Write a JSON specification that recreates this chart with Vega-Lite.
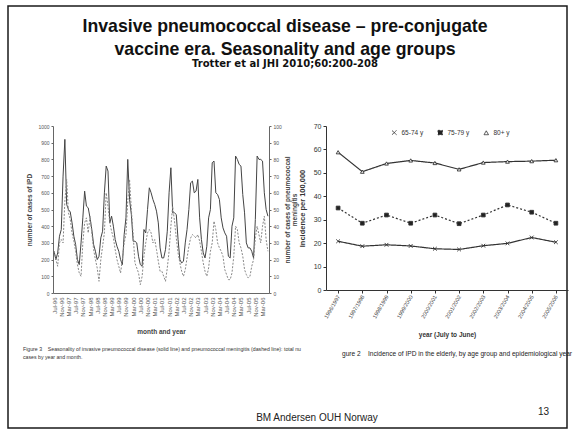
{
  "$schema": "https://vega.github.io/schema/vega-lite/v6.json",
  "padding": {"left": 7, "top": 5, "right": 0, "bottom": 0},
  "background": "white",
  "config": {
    "font": "Liberation Sans",
    "view": {"stroke": null},
    "axis": {"grid": false, "labelFont": "Liberation Sans", "titleFont": "Liberation Sans"},
    "legend": {"labelFont": "Liberation Sans"}
  },
  "datasets": {
    "monthly": [
      {"month": "Jul-96", "ipd": 250, "men": 25}, {"month": "Aug-96", "ipd": 200, "men": 20}, {"month": "Sep-96", "ipd": 240, "men": 16}, {"month": "Oct-96", "ipd": 340, "men": 30}, {"month": "Nov-96", "ipd": 380, "men": 32}, {"month": "Dec-96", "ipd": 700, "men": 30}, {"month": "Jan-97", "ipd": 920, "men": 55}, {"month": "Feb-97", "ipd": 530, "men": 68}, {"month": "Mar-97", "ipd": 500, "men": 48}, {"month": "Apr-97", "ipd": 485, "men": 44}, {"month": "May-97", "ipd": 420, "men": 36}, {"month": "Jun-97", "ipd": 340, "men": 31},
      {"month": "Jul-97", "ipd": 290, "men": 25}, {"month": "Aug-97", "ipd": 200, "men": 17}, {"month": "Sep-97", "ipd": 170, "men": 12}, {"month": "Oct-97", "ipd": 300, "men": 10}, {"month": "Nov-97", "ipd": 450, "men": 30}, {"month": "Dec-97", "ipd": 610, "men": 42}, {"month": "Jan-98", "ipd": 520, "men": 45}, {"month": "Feb-98", "ipd": 510, "men": 36}, {"month": "Mar-98", "ipd": 450, "men": 46}, {"month": "Apr-98", "ipd": 380, "men": 36}, {"month": "May-98", "ipd": 290, "men": 26}, {"month": "Jun-98", "ipd": 250, "men": 20},
      {"month": "Jul-98", "ipd": 200, "men": 15}, {"month": "Aug-98", "ipd": 220, "men": 7}, {"month": "Sep-98", "ipd": 330, "men": 20}, {"month": "Oct-98", "ipd": 370, "men": 28}, {"month": "Nov-98", "ipd": 600, "men": 36}, {"month": "Dec-98", "ipd": 760, "men": 60}, {"month": "Jan-99", "ipd": 730, "men": 52}, {"month": "Feb-99", "ipd": 420, "men": 42}, {"month": "Mar-99", "ipd": 460, "men": 37}, {"month": "Apr-99", "ipd": 400, "men": 33}, {"month": "May-99", "ipd": 320, "men": 26}, {"month": "Jun-99", "ipd": 280, "men": 20},
      {"month": "Jul-99", "ipd": 250, "men": 16}, {"month": "Aug-99", "ipd": 200, "men": 12}, {"month": "Sep-99", "ipd": 170, "men": 20}, {"month": "Oct-99", "ipd": 350, "men": 30}, {"month": "Nov-99", "ipd": 450, "men": 35}, {"month": "Dec-99", "ipd": 800, "men": 55}, {"month": "Jan-00", "ipd": 560, "men": 68}, {"month": "Feb-00", "ipd": 470, "men": 50}, {"month": "Mar-00", "ipd": 310, "men": 35}, {"month": "Apr-00", "ipd": 310, "men": 18}, {"month": "May-00", "ipd": 300, "men": 15}, {"month": "Jun-00", "ipd": 220, "men": 12},
      {"month": "Jul-00", "ipd": 170, "men": 5}, {"month": "Aug-00", "ipd": 160, "men": 10}, {"month": "Sep-00", "ipd": 380, "men": 22}, {"month": "Oct-00", "ipd": 360, "men": 30}, {"month": "Nov-00", "ipd": 500, "men": 36}, {"month": "Dec-00", "ipd": 630, "men": 38}, {"month": "Jan-01", "ipd": 600, "men": 36}, {"month": "Feb-01", "ipd": 560, "men": 30}, {"month": "Mar-01", "ipd": 530, "men": 32}, {"month": "Apr-01", "ipd": 490, "men": 26}, {"month": "May-01", "ipd": 420, "men": 19}, {"month": "Jun-01", "ipd": 270, "men": 13},
      {"month": "Jul-01", "ipd": 210, "men": 13}, {"month": "Aug-01", "ipd": 210, "men": 10}, {"month": "Sep-01", "ipd": 260, "men": 7}, {"month": "Oct-01", "ipd": 370, "men": 15}, {"month": "Nov-01", "ipd": 600, "men": 25}, {"month": "Dec-01", "ipd": 750, "men": 40}, {"month": "Jan-02", "ipd": 480, "men": 52}, {"month": "Feb-02", "ipd": 480, "men": 43}, {"month": "Mar-02", "ipd": 470, "men": 33}, {"month": "Apr-02", "ipd": 320, "men": 24}, {"month": "May-02", "ipd": 200, "men": 18}, {"month": "Jun-02", "ipd": 180, "men": 13},
      {"month": "Jul-02", "ipd": 190, "men": 10}, {"month": "Aug-02", "ipd": 300, "men": 14}, {"month": "Sep-02", "ipd": 380, "men": 21}, {"month": "Oct-02", "ipd": 500, "men": 28}, {"month": "Nov-02", "ipd": 660, "men": 33}, {"month": "Dec-02", "ipd": 670, "men": 35}, {"month": "Jan-03", "ipd": 600, "men": 34}, {"month": "Feb-03", "ipd": 610, "men": 33}, {"month": "Mar-03", "ipd": 680, "men": 35}, {"month": "Apr-03", "ipd": 450, "men": 31}, {"month": "May-03", "ipd": 320, "men": 25}, {"month": "Jun-03", "ipd": 240, "men": 18},
      {"month": "Jul-03", "ipd": 210, "men": 13}, {"month": "Aug-03", "ipd": 280, "men": 10}, {"month": "Sep-03", "ipd": 450, "men": 15}, {"month": "Oct-03", "ipd": 500, "men": 25}, {"month": "Nov-03", "ipd": 780, "men": 30}, {"month": "Dec-03", "ipd": 790, "men": 43}, {"month": "Jan-04", "ipd": 600, "men": 38}, {"month": "Feb-04", "ipd": 590, "men": 30}, {"month": "Mar-04", "ipd": 560, "men": 27}, {"month": "Apr-04", "ipd": 450, "men": 25}, {"month": "May-04", "ipd": 390, "men": 22}, {"month": "Jun-04", "ipd": 360, "men": 14},
      {"month": "Jul-04", "ipd": 340, "men": 11}, {"month": "Aug-04", "ipd": 220, "men": 8}, {"month": "Sep-04", "ipd": 210, "men": 8}, {"month": "Oct-04", "ipd": 400, "men": 12}, {"month": "Nov-04", "ipd": 450, "men": 22}, {"month": "Dec-04", "ipd": 820, "men": 40}, {"month": "Jan-05", "ipd": 800, "men": 38}, {"month": "Feb-05", "ipd": 770, "men": 30}, {"month": "Mar-05", "ipd": 760, "men": 27}, {"month": "Apr-05", "ipd": 590, "men": 22}, {"month": "May-05", "ipd": 480, "men": 14}, {"month": "Jun-05", "ipd": 300, "men": 11},
      {"month": "Jul-05", "ipd": 270, "men": 9}, {"month": "Aug-05", "ipd": 270, "men": 10}, {"month": "Sep-05", "ipd": 250, "men": 16}, {"month": "Oct-05", "ipd": 210, "men": 20}, {"month": "Nov-05", "ipd": 440, "men": 33}, {"month": "Dec-05", "ipd": 820, "men": 40}, {"month": "Jan-06", "ipd": 800, "men": 35}, {"month": "Feb-06", "ipd": 800, "men": 30}, {"month": "Mar-06", "ipd": 790, "men": 40}, {"month": "Apr-06", "ipd": 600, "men": 46}, {"month": "May-06", "ipd": 500, "men": 32}, {"month": "Jun-06", "ipd": 460, "men": 25}
    ],
    "elderly": [
      {"season": "1996/1997", "group": "65-74 y", "incidence": 20.8}, {"season": "1997/1998", "group": "65-74 y", "incidence": 18.7}, {"season": "1998/1999", "group": "65-74 y", "incidence": 19.3}, {"season": "1999/2000", "group": "65-74 y", "incidence": 18.8}, {"season": "2000/2001", "group": "65-74 y", "incidence": 17.6}, {"season": "2001/2002", "group": "65-74 y", "incidence": 17.3}, {"season": "2002/2003", "group": "65-74 y", "incidence": 18.9}, {"season": "2003/2004", "group": "65-74 y", "incidence": 19.9}, {"season": "2004/2005", "group": "65-74 y", "incidence": 22.4}, {"season": "2005/2006", "group": "65-74 y", "incidence": 20.4},
      {"season": "1996/1997", "group": "75-79 y", "incidence": 35.0}, {"season": "1997/1998", "group": "75-79 y", "incidence": 28.5}, {"season": "1998/1999", "group": "75-79 y", "incidence": 32.0}, {"season": "1999/2000", "group": "75-79 y", "incidence": 28.5}, {"season": "2000/2001", "group": "75-79 y", "incidence": 32.0}, {"season": "2001/2002", "group": "75-79 y", "incidence": 28.3}, {"season": "2002/2003", "group": "75-79 y", "incidence": 32.0}, {"season": "2003/2004", "group": "75-79 y", "incidence": 36.3}, {"season": "2004/2005", "group": "75-79 y", "incidence": 33.2}, {"season": "2005/2006", "group": "75-79 y", "incidence": 28.5},
      {"season": "1996/1997", "group": "80+ y", "incidence": 58.8}, {"season": "1997/1998", "group": "80+ y", "incidence": 50.5}, {"season": "1998/1999", "group": "80+ y", "incidence": 54.0}, {"season": "1999/2000", "group": "80+ y", "incidence": 55.3}, {"season": "2000/2001", "group": "80+ y", "incidence": 54.2}, {"season": "2001/2002", "group": "80+ y", "incidence": 51.5}, {"season": "2002/2003", "group": "80+ y", "incidence": 54.4}, {"season": "2003/2004", "group": "80+ y", "incidence": 54.8}, {"season": "2004/2005", "group": "80+ y", "incidence": 55.0}, {"season": "2005/2006", "group": "80+ y", "incidence": 55.4}
    ],
    "footer": [
      {"label": "BM Andersen OUH Norway", "role": "author"},
      {"label": "13", "role": "page"}
    ]
  },
  "bounds": "flush",
  "spacing": 120,
  "vconcat": [
    {
      "bounds": "flush",
      "vconcat": [
        {
          "width": 559,
          "height": 422,
          "view": {"stroke": "#1a1a1a", "strokeWidth": 1.5},
          "data": {"name": "footer"},
          "encoding": {
            "x": {
              "field": "role",
              "type": "nominal",
              "sort": ["author", "page"],
              "scale": {"type": "point", "padding": 0.734, "align": 0.9293},
              "axis": null
            },
            "y": {
              "field": "role",
              "type": "nominal",
              "sort": ["page", "author"],
              "scale": {"type": "point", "padding": 0, "range": [406, 411.5]},
              "axis": null
            },
            "text": {"field": "label"}
          },
          "mark": {"type": "text", "fontSize": 10, "color": "#222", "font": "Liberation Sans"}
        }
      ]
    },
    {
      "title": {
        "text": ["Invasive pneumococcal disease \u2013 pre-conjugate", "vaccine era. Seasonality and age groups"],
        "subtitle": "Trotter et al JHI 2010;60:200-208",
        "anchor": "middle",
        "dx": -5,
        "fontSize": 17.7,
        "fontWeight": "bold",
        "color": "#111",
        "lineHeight": 23.5,
        "subtitleFont": "DejaVu Sans",
        "subtitleFontSize": 10,
        "subtitleFontWeight": "bold",
        "subtitleColor": "#111",
        "subtitlePadding": 0,
        "offset": 53
      },
      "bounds": "flush",
      "spacing": 10,
      "hconcat": [
        {
          "width": 35,
          "height": 10,
          "data": {"values": []},
          "mark": "point"
        },
        {
          "width": 216,
          "height": 167,
          "data": {"name": "monthly"},
          "title": {
            "text": ["Figure 3\u00a0\u00a0\u00a0\u00a0Seasonality of invasive pneumococcal disease (solid line) and pneumococcal meningitis (dashed line): total nu", "cases by year and month."],
            "orient": "bottom",
            "anchor": "start",
            "frame": "group",
            "dx": -30,
            "offset": 12,
            "fontSize": 5.2,
            "fontWeight": "normal",
            "lineHeight": 8,
            "color": "#333"
          },
          "encoding": {
            "x": {
              "field": "month",
              "type": "ordinal",
              "sort": null,
              "scale": {"type": "point", "padding": 0.6},
              "axis": {
                "labelExpr": "indexof(['Jul','Nov','Mar'], slice(datum.value,0,3)) >= 0 ? datum.value : ''",
                "labelAngle": -90,
                "labelFontSize": 6,
                "labelColor": "#555",
                "labelOverlap": false,
                "labelPadding": 4,
                "ticks": false,
                "domainColor": "#666",
                "title": "month and year",
                "titleFontSize": 6.5,
                "titleFontWeight": "bold",
                "titleColor": "#444",
                "titlePadding": 12
              }
            }
          },
          "layer": [
            {
              "mark": {"type": "line", "color": "#444", "strokeWidth": 1},
              "encoding": {
                "y": {
                  "field": "ipd",
                  "type": "quantitative",
                  "scale": {"domain": [0, 1000]},
                  "axis": {
                    "values": [0, 100, 200, 300, 400, 500, 600, 700, 800, 900, 1000],
                    "format": "d",
                    "labelFontSize": 5,
                    "labelColor": "#555",
                    "tickSize": 2,
                    "tickColor": "#666",
                    "domainColor": "#666",
                    "title": "number of cases of IPD",
                    "titleFontSize": 6.5,
                    "titleFontWeight": "bold",
                    "titleColor": "#444",
                    "titlePadding": 5
                  }
                }
              }
            },
            {
              "mark": {"type": "line", "color": "#888", "strokeWidth": 1, "strokeDash": [2, 1.5]},
              "encoding": {
                "y": {
                  "field": "men",
                  "type": "quantitative",
                  "scale": {"domain": [0, 100]},
                  "axis": {
                    "orient": "right",
                    "values": [0, 10, 20, 30, 40, 50, 60, 70, 80, 90, 100],
                    "labelFontSize": 5,
                    "labelColor": "#555",
                    "tickSize": 2,
                    "tickColor": "#666",
                    "domainColor": "#666",
                    "title": ["number of cases of pneumococcal", "meningitis"],
                    "titleAngle": 270,
                    "titleFontSize": 6.5,
                    "titleFontWeight": "bold",
                    "titleColor": "#444",
                    "titleLineHeight": 7,
                    "titlePadding": 2
                  }
                }
              }
            }
          ],
          "resolve": {"scale": {"y": "independent"}, "axis": {"y": "independent"}}
        },
        {
          "width": 37,
          "height": 10,
          "data": {"values": []},
          "mark": "point"
        },
        {
          "width": 242,
          "height": 164,
          "data": {"name": "elderly"},
          "title": {
            "text": "gure 2\u00a0\u00a0\u00a0\u00a0Incidence of IPD in the elderly, by age group and epidemiological year",
            "orient": "bottom",
            "anchor": "start",
            "frame": "group",
            "dx": 16,
            "offset": 13,
            "fontSize": 6.6,
            "fontWeight": "normal",
            "color": "#222"
          },
          "encoding": {
            "x": {
              "field": "season",
              "type": "ordinal",
              "sort": null,
              "scale": {"type": "point", "padding": 0.5},
              "axis": {
                "labelAngle": -60,
                "labelFontSize": 5.5,
                "labelColor": "#444",
                "labelPadding": 2,
                "tickSize": 3,
                "tickColor": "#333",
                "domainColor": "#333",
                "title": "year (July to June)",
                "titleFontSize": 6.5,
                "titleFontWeight": "bold",
                "titleColor": "#333",
                "titlePadding": 12
              }
            },
            "y": {
              "field": "incidence",
              "type": "quantitative",
              "scale": {"domain": [0, 70]},
              "axis": {
                "values": [0, 10, 20, 30, 40, 50, 60, 70],
                "labelFontSize": 7,
                "labelColor": "#333",
                "tickSize": 3,
                "tickColor": "#333",
                "domainColor": "#333",
                "title": "Incidence per 100,000",
                "titleFontSize": 7.5,
                "titleFontWeight": "bold",
                "titleColor": "#333",
                "titlePadding": 7
              }
            }
          },
          "layer": [
            {
              "mark": {"type": "line", "color": "#333", "strokeWidth": 1.2},
              "encoding": {
                "strokeDash": {
                  "field": "group",
                  "type": "nominal",
                  "scale": {"domain": ["65-74 y", "75-79 y", "80+ y"], "range": [[1, 0], [2, 2], [1, 0]]},
                  "legend": {
                    "title": null,
                    "orient": "none",
                    "direction": "horizontal",
                    "legendX": 383,
                    "legendY": 123,
                    "labelFontSize": 6.5,
                    "labelColor": "#333",
                    "symbolSize": 20,
                    "symbolStrokeWidth": 0.9,
                    "columnPadding": 12
                  }
                }
              }
            },
            {
              "mark": {"type": "point", "filled": false, "strokeWidth": 0.9, "size": 14, "opacity": 1},
              "encoding": {
                "shape": {
                  "field": "group",
                  "type": "nominal",
                  "scale": {"domain": ["65-74 y", "75-79 y", "80+ y"], "range": ["M-1,-1L1,1M-1,1L1,-1", "square", "triangle-up"]},
                  "legend": {
                    "title": null,
                    "orient": "none",
                    "direction": "horizontal",
                    "legendX": 383,
                    "legendY": 123,
                    "labelFontSize": 6.5,
                    "labelColor": "#333",
                    "symbolSize": 20,
                    "symbolStrokeWidth": 0.9,
                    "columnPadding": 12
                  }
                },
                "stroke": {
                  "field": "group",
                  "type": "nominal",
                  "scale": {"domain": ["65-74 y", "75-79 y", "80+ y"], "range": ["#333333", "#333333", "#333333"]},
                  "legend": {
                    "title": null,
                    "orient": "none",
                    "direction": "horizontal",
                    "legendX": 383,
                    "legendY": 123,
                    "labelFontSize": 6.5,
                    "labelColor": "#333",
                    "symbolSize": 20,
                    "symbolStrokeWidth": 0.9,
                    "columnPadding": 12
                  }
                },
                "fill": {
                  "field": "group",
                  "type": "nominal",
                  "scale": {"domain": ["65-74 y", "75-79 y", "80+ y"], "range": ["transparent", "#222222", "#ffffff"]},
                  "legend": {
                    "title": null,
                    "orient": "none",
                    "direction": "horizontal",
                    "legendX": 383,
                    "legendY": 123,
                    "labelFontSize": 6.5,
                    "labelColor": "#333",
                    "symbolSize": 20,
                    "symbolStrokeWidth": 0.9,
                    "columnPadding": 12
                  }
                }
              }
            }
          ]
        }
      ]
    }
  ]
}
